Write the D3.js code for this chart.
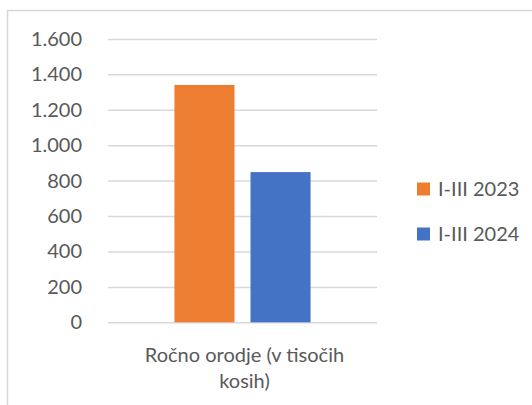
<!DOCTYPE html>
<meta charset="utf-8">
<title>Ročno orodje</title>
<style>
body { margin: 0; background: #fff; }
text { font-family: Lato, "Open Sans", sans-serif; fill: #595959; }
.axis path, .axis line { stroke: #d9d9d9; }
.axis .domain { display: none; }
</style>
<svg width="532" height="405"></svg>
<script src="https://cdn.jsdelivr.net/npm/d3@7"></script>
<script>

// data
var categories = ["Ročno orodje (v tisočih kosih)"];
var series = ["I-III 2023", "I-III 2024"];
var values = [[1340, 848]];          // one row per category, one value per series
var yTicks = [0, 200, 400, 600, 800, 1000, 1200, 1400, 1600];
var colors = ["#ed7d31", "#4472c4"];

var svg = d3.select("svg");

// chart frame (runs off the right and bottom edges)
svg.append("rect")
    .attr("x", 7.5).attr("y", 10.5)
    .attr("width", 600).attr("height", 500)
    .attr("fill", "none")
    .attr("stroke", "#d9d9d9")
    .attr("stroke-width", 1.5);

var plotLeft = 108, plotRight = 377, plotTop = 38.9, plotBottom = 322.3;

var y = d3.scaleLinear().domain([0, 1600]).range([plotBottom, plotTop]);

var x0 = d3.scaleBand().domain(categories).range([plotLeft, plotRight]).padding(0.328);
var x1 = d3.scaleBand().domain(series).range([0, x0.bandwidth()]).paddingInner(0.2105);

var fmt = d3.formatLocale({ decimal: ",", thousands: ".", grouping: [3], currency: ["", "€"] }).format(",d");

var yAxis = svg.append("g")
    .attr("class", "axis")
    .attr("transform", "translate(" + plotLeft + ",0)")
    .call(d3.axisLeft(y).tickValues(yTicks).tickFormat(fmt)
      .tickSize(-(plotRight - plotLeft)).tickPadding(26));

yAxis.selectAll("line").attr("stroke-width", 1.5);
yAxis.selectAll("text")
    .style("font-size", "20px")
    .style("font-family", "Lato, sans-serif")
    .attr("fill", "#595959");

// bars
var groups = svg.selectAll("g.cat")
  .data(categories)
  .enter().append("g")
    .attr("class", "cat")
    .attr("transform", function(d) { return "translate(" + x0(d) + ",0)"; });

groups.selectAll("rect")
  .data(function(d, i) { return series.map(function(s, j) { return { s: s, v: values[i][j], c: colors[j] }; }); })
  .enter().append("rect")
    .attr("x", function(d) { return x1(d.s); })
    .attr("y", function(d) { return y(d.v); })
    .attr("width", x1.bandwidth())
    .attr("height", function(d) { return y(0) - y(d.v); })
    .attr("fill", function(d) { return d.c; });

// category label, wrapped onto two lines
svg.selectAll("text.cat")
  .data(categories)
  .enter().append("text")
    .attr("class", "cat")
    .attr("x", function(d) { return x0(d) + x0.bandwidth() / 2 + 2; })
    .attr("y", 362)
    .attr("text-anchor", "middle")
    .style("font-size", "20px")
    .each(function(d) {
      var t = d3.select(this), words = d.split(" "), line = [];
      var tspan = t.append("tspan").attr("x", t.attr("x")).attr("dy", 0);
      words.forEach(function(w) {
        line.push(w);
        tspan.text(line.join(" "));
        if (tspan.node().getComputedTextLength() > 225 && line.length > 1) {
          line.pop();
          tspan.text(line.join(" "));
          line = [w];
          tspan = t.append("tspan").attr("x", t.attr("x")).attr("dy", 25.5).text(w);
        }
      });
    });

// legend
var legend = svg.selectAll("g.legend")
  .data(series)
  .enter().append("g")
    .attr("class", "legend")
    .attr("transform", function(d, i) { return "translate(417," + (189 + i * 45) + ")"; });

legend.append("rect")
    .attr("x", 0).attr("y", -6.5)
    .attr("width", 13).attr("height", 13)
    .attr("fill", function(d, i) { return colors[i]; });

legend.append("text")
    .attr("x", 21)
    .attr("dy", "0.35em")
    .style("font-size", "20px")
    .text(function(d) { return d; });

</script>
